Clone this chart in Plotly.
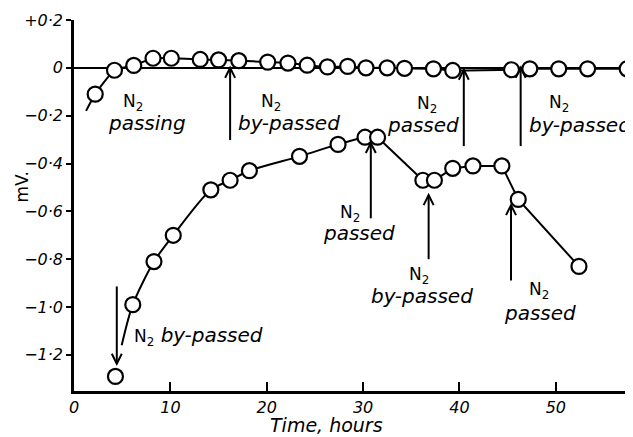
import plotly.graph_objects as go

# ---- data ----
top_x = [2.2, 4.2, 6.2, 8.2, 10.1, 13.1, 15.0, 17.1, 20.1, 22.2, 24.2, 26.3, 28.4, 30.3,
         32.5, 34.3, 37.3, 39.3, 45.4, 47.3, 50.3, 53.3, 57.4]
top_y = [-0.11, -0.01, 0.01, 0.04, 0.04, 0.035, 0.033, 0.03, 0.024, 0.02, 0.011, 0.004,
         0.006, 0.0, 0.0, -0.002, -0.004, -0.011, -0.008, -0.004, -0.004, -0.004, -0.004]
top_lead = (1.25, -0.18)

bottom_x = [4.3, 6.1, 8.3, 10.3, 14.2, 16.2, 18.2, 23.4, 27.4, 30.2, 31.5, 36.2, 37.4,
            39.3, 41.4, 44.4, 46.1, 52.4]
bottom_y = [-1.29, -0.99, -0.81, -0.70, -0.51, -0.47, -0.43, -0.37, -0.32, -0.29, -0.29,
            -0.47, -0.47, -0.42, -0.41, -0.41, -0.55, -0.83]
bottom_lead = (4.95, -1.16)
curve_end = 10  # index of last point on the smooth part of the lower curve

x_ticks = [0, 10, 20, 30, 40, 50]
y_ticks = [0.2, 0.0, -0.2, -0.4, -0.6, -0.8, -1.0, -1.2]
y_ticktext = ["+0·2", "0", "−0·2", "−0·4", "−0·6", "−0·8", "−1·0", "−1·2"]

# arrows: x, tail y, tip y
arrow_x = [16.2, 40.45, 46.35, 30.8, 36.8, 45.35, 4.44]
arrow_tail = [-0.302, -0.327, -0.327, -0.629, -0.80, -0.889, -0.914]
arrow_tip = [0.0, -0.008, 0.0, -0.314, -0.532, -0.574, -1.237]

# labels: (N2 x, N2 y, word, word x, word y)
labels = [
    (6.12, -0.143, "passing", 7.57, -0.231),
    (20.4, -0.143, "by-passed", 22.35, -0.231),
    (36.59, -0.155, "passed", 36.2, -0.239),
    (50.3, -0.147, "by-passed", 52.5, -0.239),
    (28.6, -0.608, "passed", 29.56, -0.692),
    (35.8, -0.868, "by-passed", 36.15, -0.952),
    (48.3, -0.931, "passed", 48.4, -1.023),
]

FONT = "DejaVu Sans"
X_RANGE = [0, 57.8]
Y_RANGE = [-1.351, 0.2]
PX_X = 9.64    # px per x unit
PX_Y = 238.5   # px per y unit

fig = go.Figure()

line_style = dict(color="black", width=2)
marker_style = dict(symbol="circle", size=15, color="white",
                    line=dict(color="black", width=2.2))

# upper series line
fig.add_trace(go.Scatter(x=[top_lead[0]] + top_x, y=[top_lead[1]] + top_y,
                         mode="lines", line=dict(shape="spline", smoothing=0.5, **line_style),
                         hoverinfo="skip"))
# lower series: smooth part and straight part
fig.add_trace(go.Scatter(x=[bottom_lead[0]] + bottom_x[1:curve_end + 1],
                         y=[bottom_lead[1]] + bottom_y[1:curve_end + 1],
                         mode="lines", line=dict(shape="spline", smoothing=0.8, **line_style),
                         hoverinfo="skip"))
fig.add_trace(go.Scatter(x=bottom_x[curve_end:], y=bottom_y[curve_end:],
                         mode="lines", line=line_style, hoverinfo="skip"))
# markers
fig.add_trace(go.Scatter(x=top_x, y=top_y, mode="markers", marker=marker_style))
fig.add_trace(go.Scatter(x=bottom_x, y=bottom_y, mode="markers", marker=marker_style))

shapes = []
dx = 5.0 / PX_X
dy = 10.0 / PX_Y
for ax_, t0, t1 in zip(arrow_x, arrow_tail, arrow_tip):
    shapes.append(dict(type="line", xref="x", yref="y", x0=ax_, x1=ax_, y0=t0, y1=t1,
                       line=dict(color="black", width=2)))
    s = 1 if t1 > t0 else -1
    shapes.append(dict(type="path", xref="x", yref="y",
                       path=f"M {ax_ - dx},{t1 - s * dy} L {ax_},{t1} L {ax_ + dx},{t1 - s * dy}",
                       line=dict(color="black", width=2)))

annotations = []
for nx, ny, word, wx, wy in labels:
    annotations.append(dict(x=nx, y=ny, xref="x", yref="y", showarrow=False,
                            text="N<sub>2</sub>", font=dict(family=FONT, size=17, color="black"),
                            xanchor="center", yanchor="middle"))
    annotations.append(dict(x=wx, y=wy, xref="x", yref="y", showarrow=False,
                            text=word, font=dict(family=FONT, size=20, color="black", style="italic"),
                            xanchor="center", yanchor="middle"))
annotations.append(dict(x=6.0, y=-1.12, xref="x", yref="y", showarrow=False,
                        text="<span style='font-style:normal;font-size:17px'>N<sub>2</sub></span> by-passed",
                        font=dict(family=FONT, size=20, color="black", style="italic"),
                        xanchor="left", yanchor="middle"))
annotations.append(dict(x=0.454, y=-0.092, xref="paper", yref="paper", showarrow=False,
                        text="Time, hours", font=dict(family=FONT, size=19, color="black", style="italic"),
                        xanchor="center", yanchor="middle"))
annotations.append(dict(x=-0.0934, y=0.551, xref="paper", yref="paper", showarrow=False,
                        text="mV.", textangle=-90, font=dict(family=FONT, size=17, color="black"),
                        xanchor="center", yanchor="middle"))

# the page places the plot 8 px from the top-left corner, so the figure is 8 px smaller
fig.update_layout(
    width=625, height=429,
    margin=dict(l=66, r=2, t=12, b=46),
    paper_bgcolor="white", plot_bgcolor="white",
    showlegend=False,
    shapes=shapes,
    annotations=annotations,
    xaxis=dict(range=X_RANGE, tickvals=x_ticks, ticks="inside", ticklen=9, tickwidth=2,
               tickcolor="black", showline=True, linecolor="black", linewidth=2.5,
               showgrid=False, zeroline=False,
               tickfont=dict(family=FONT, size=16, color="black", style="italic")),
    yaxis=dict(range=Y_RANGE, tickvals=y_ticks, ticktext=y_ticktext, ticks="outside",
               ticklen=5, tickwidth=2, tickcolor="black", showline=True, linecolor="black",
               linewidth=2.5, showgrid=False, zeroline=True, zerolinecolor="black",
               zerolinewidth=2,
               tickfont=dict(family=FONT, size=16, color="black", style="italic")),
)

fig.write_html("out.html")
